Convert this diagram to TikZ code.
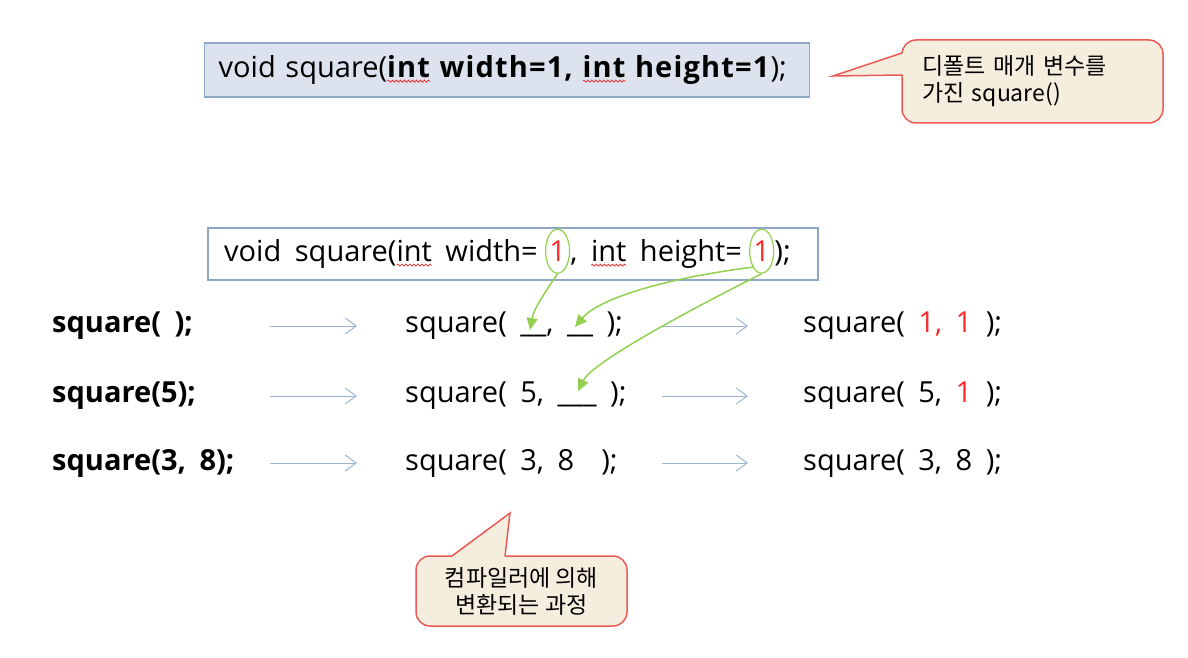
\documentclass[tikz,border=0pt]{standalone}
\usepackage{fontspec}
\setmainfont{Open Sans}[WordSpace=1.8]
\newfontfamily\krfont{Noto Sans CJK KR}
\usetikzlibrary{arrows.meta,shapes.geometric,decorations.pathmorphing}
\definecolor{boxblue}{HTML}{DCE3EE}
\definecolor{boxline}{HTML}{8EA7C6}
\definecolor{noteback}{HTML}{F5EEDF}
\definecolor{noteline}{HTML}{EB5A55}
\definecolor{markgreen}{HTML}{92D050}
\definecolor{arrowblue}{HTML}{9DB6D3}
\definecolor{numred}{HTML}{FF2A2A}
\newcommand{\rowfont}{\fontsize{29}{33}\selectfont}
\newcommand{\notefont}{\fontsize{23}{27}\selectfont}
\newlength{\spellw}
\newcommand{\spell}[1]{\settowidth{\spellw}{#1}\rlap{\raisebox{-5pt}[0pt][0pt]{\tikz
    \draw[red,line width=0.6pt,decorate,decoration={zigzag,segment length=4pt,amplitude=1.1pt}]
    (0pt,0pt) -- (\spellw,0pt);}}#1}
\tikzset{codebox/.style={draw=boxline,line width=1.3pt,anchor=west,inner xsep=14pt,
                         minimum height=54pt,text width=577pt,align=left,font=\rowfont}}
\tikzset{code/.style={anchor=west,inner sep=0pt,font=\rowfont}}
\tikzset{call/.style={code,font=\rowfont\bfseries}}
\tikzset{pick/.style={ellipse,draw=markgreen,line width=1.2pt,text=numred,
                      minimum width=24pt,minimum height=44pt,inner sep=0pt,font=\rowfont}}
\tikzset{flow/.style={draw=arrowblue,line width=1pt,-{Straight Barb[length=11pt,width=16pt]}}}
\tikzset{fillin/.style={draw=markgreen,line width=1.5pt,-{Triangle[length=12pt,width=11pt]}}}
\tikzset{note/.style={draw=noteline,fill=noteback,line width=1.5pt,rounded corners=14pt,
                      font=\notefont\krfont}}
\tikzset{tail/.style={draw=noteline,line width=1.5pt}}

\begin{document}
\begin{tikzpicture}[x=1pt,y=-1pt]
    \useasboundingbox (0,0) rectangle (1188,658);
    % Declaration with default values
    \node[codebox,fill=boxblue] (decl) at (204,70)
        {void square(\textbf{\addfontfeature{LetterSpace=4}\spell{int} width=1,
         \spell{int} height=1});};
    % Callout for the declaration
    \node[note,minimum width=261pt,minimum height=83pt,text width=221pt,
          inner xsep=20pt,align=left] (note1) at (1032.5,81.5)
        {디폴트 매개 변수를\\가진 square()};
    \coordinate (tip1) at (833,76);
    \fill[noteback] (904,54.5) -- (902,53) -- (tip1) -- (902,75) -- (904,73.5) -- cycle;
    \draw[tail] (902,53) -- (tip1) -- (902,75);
    % Second declaration, default values marked
    \draw[boxline,line width=1.3pt] (208,228) rectangle (818,280);
    \node[code] (d1) at (224,254) {void square(\spell{int} width=\kern7pt};
    \node[pick,anchor=base west] (e1) at (d1.base east) {1};
    \node[code,anchor=base west] (d2) at (e1.base east) {, \spell{int} height=\kern7pt};
    \node[pick,anchor=base west] (e2) at (d2.base east) {1};
    \node[code,anchor=base west] (d3) at (e2.base east) {);};
    % Calls, filled-in calls and results
    \foreach \y/\lab/\mid/\res [count=\i] in
        {326/{square( );}/{square( \_\_, \_\_ );}/{square( \textcolor{numred}{1, 1} );},
         396/{square(5);}/{square( 5, \_\_\_ );}/{square( 5, \textcolor{numred}{1} );},
         463/{square(3, 8);}/{square( 3, 8 \ );}/{square( 3, 8 );}}{%
        \node[call] (c\i) at (52,\y) {\lab};
        \node[code] (m\i) at (405,\y) {\mid};
        \node[code] (r\i) at (803,\y) {\res};
        \coordinate (a\i) at (270,\y);
        \coordinate (b\i) at (357,\y);
        \coordinate (p\i) at (662,\y);
        \coordinate (q\i) at (748,\y);
        \draw[flow] (a\i) -- (b\i);
        \draw[flow] (p\i) -- (q\i);
    }
    % Where the default values go
    \coordinate (w1) at (530,330);
    \coordinate (h1) at (575,327);
    \coordinate (h2) at (578,391);
    \draw[fillin] (e1.south) .. controls +(-12,18) and +(4,-22) .. (w1);
    \draw[fillin] (e2.south west) .. controls +(-80,10) and +(25,-30) .. (h1);
    \draw[fillin] (e2.south) .. controls +(-60,30) and +(15,-30) .. (h2);
    % Callout for the conversion
    \node[note,minimum width=211pt,minimum height=70pt,align=center] (note2) at (521.5,591)
        {컴파일러에 의해\\변환되는 과정};
    \coordinate (tip2) at (510,513);
    \fill[noteback] (453.5,558) -- (452,556) -- (tip2) -- (505,556) -- (503.5,558) -- cycle;
    \draw[tail] (452,556) -- (tip2) -- (505,556);
\end{tikzpicture}
\end{document}
